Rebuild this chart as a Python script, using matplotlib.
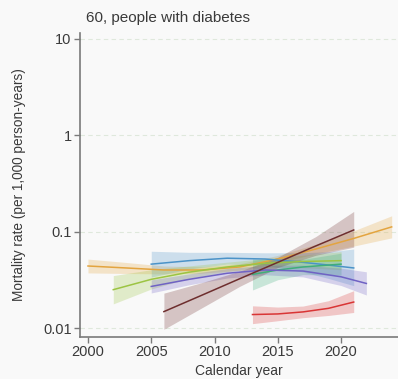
import matplotlib
matplotlib.use("Agg")
import matplotlib.pyplot as plt
import numpy as np

plt.rcParams['font.family'] = ['Liberation Sans', 'DejaVu Sans']

# Fitted mortality rates (per 1,000 person-years) with 95% confidence limits
orange_years = [2000, 2003, 2006, 2009, 2012, 2015, 2018, 2021, 2024]
orange_est = [0.044, 0.042, 0.040, 0.040, 0.043, 0.052, 0.066, 0.085, 0.112]
orange_lo = [0.0373, 0.0368, 0.0364, 0.0370, 0.0398, 0.0477, 0.0589, 0.0708, 0.0862]
orange_hi = [0.0519, 0.0479, 0.0440, 0.0432, 0.0464, 0.0567, 0.0739, 0.102, 0.146]

blue_years = [2005, 2008, 2011, 2014, 2017, 2019, 2021]
blue_est = [0.046, 0.050, 0.053, 0.052, 0.048, 0.045, 0.042]
blue_lo = [0.0338, 0.0410, 0.0461, 0.0448, 0.0381, 0.0327, 0.0275]
blue_hi = [0.0626, 0.0610, 0.0610, 0.0603, 0.0605, 0.0619, 0.0660]

lime_years = [2002, 2005, 2008, 2011, 2014, 2017, 2020]
lime_est = [0.025, 0.032, 0.038, 0.043, 0.047, 0.049, 0.050]
lime_lo = [0.0178, 0.0254, 0.0328, 0.0384, 0.0420, 0.0422, 0.0403]
lime_hi = [0.0350, 0.0403, 0.0441, 0.0482, 0.0526, 0.0569, 0.0620]

green_years = [2013, 2015, 2017, 2020]
green_est = [0.036, 0.040, 0.043, 0.046]
green_lo = [0.0248, 0.0317, 0.0358, 0.0354]
green_hi = [0.0522, 0.0504, 0.0516, 0.0598]

purple_years = [2005, 2008, 2011, 2014, 2017, 2020, 2022]
purple_est = [0.027, 0.032, 0.037, 0.040, 0.039, 0.034, 0.029]
purple_lo = [0.0231, 0.0281, 0.0330, 0.0357, 0.0339, 0.0276, 0.0220]
purple_hi = [0.0316, 0.0365, 0.0414, 0.0448, 0.0449, 0.0418, 0.0383]

brown_years = [2006, 2009, 2012, 2015, 2018, 2021]
brown_est = [0.0148, 0.0219, 0.0325, 0.048, 0.071, 0.104]
brown_lo = [0.0097, 0.0162, 0.0271, 0.0425, 0.0568, 0.0690]
brown_hi = [0.0230, 0.0296, 0.0390, 0.0542, 0.0888, 0.162]

red_years = [2013, 2015, 2017, 2019, 2021]
red_est = [0.0138, 0.0140, 0.0147, 0.0160, 0.0186]
red_lo = [0.0111, 0.0119, 0.0128, 0.0135, 0.0145]
red_hi = [0.0170, 0.0165, 0.0169, 0.0192, 0.0244]

series = [
    (orange_years, orange_est, orange_lo, orange_hi, '#e3a43f'),
    (blue_years, blue_est, blue_lo, blue_hi, '#4b93c8'),
    (lime_years, lime_est, lime_lo, lime_hi, '#9cc442'),
    (green_years, green_est, green_lo, green_hi, '#3fae7a'),
    (purple_years, purple_est, purple_lo, purple_hi, '#6f62c4'),
    (brown_years, brown_est, brown_lo, brown_hi, '#6e2e2e'),
    (red_years, red_est, red_lo, red_hi, '#d93535'),
]

y_ticks = [0.01, 0.1, 1, 10]
y_tick_labels = ['0.01', '0.1', '1', '10']
x_ticks = [2000, 2005, 2010, 2015, 2020]

bg = '#f9f9f9'
txt = '#3a3a3a'
fig = plt.figure(figsize=(3.98, 3.79), dpi=100, facecolor=bg)
ax = fig.add_axes([80 / 398, 1 - 337 / 379, 318 / 398, 304 / 379])
ax.set_facecolor(bg)

for yrs, est, lo, hi, col in series:
    ax.fill_between(yrs, lo, hi, color=col, alpha=0.26, linewidth=0)
for yrs, est, lo, hi, col in series:
    ax.plot(yrs, est, color=col, lw=1.1)

ax.set_yscale('log')
ax.set_xlim(1999.37, 2024.5)
ax.set_ylim(0.00807, 11.5)
ax.set_yticks(y_ticks)
ax.set_yticklabels(y_tick_labels)
ax.minorticks_off()
ax.set_xticks(x_ticks)

for t in y_ticks:
    ax.axhline(t, color='#dfe8dc', lw=0.8, ls=(0, (4, 3)), zorder=0)

for side in ['top', 'right']:
    ax.spines[side].set_visible(False)
for side in ['left', 'bottom']:
    ax.spines[side].set_color('#7a7a7a')
    ax.spines[side].set_linewidth(1.2)
ax.tick_params(axis='both', colors='#7a7a7a', length=4, width=1, labelsize=10.5,
               labelcolor=txt, pad=2)

ax.set_xlabel('Calendar year', fontsize=10, color=txt, labelpad=3)
ax.set_ylabel('Mortality rate (per 1,000 person-years)', fontsize=9.8, color=txt, labelpad=12)
fig.text(86 / 398, 1 - 18 / 379, '60, people with diabetes', fontsize=11,
         color=txt, ha='left', va='center')

fig.savefig('out.png', dpi=100, facecolor=bg)
